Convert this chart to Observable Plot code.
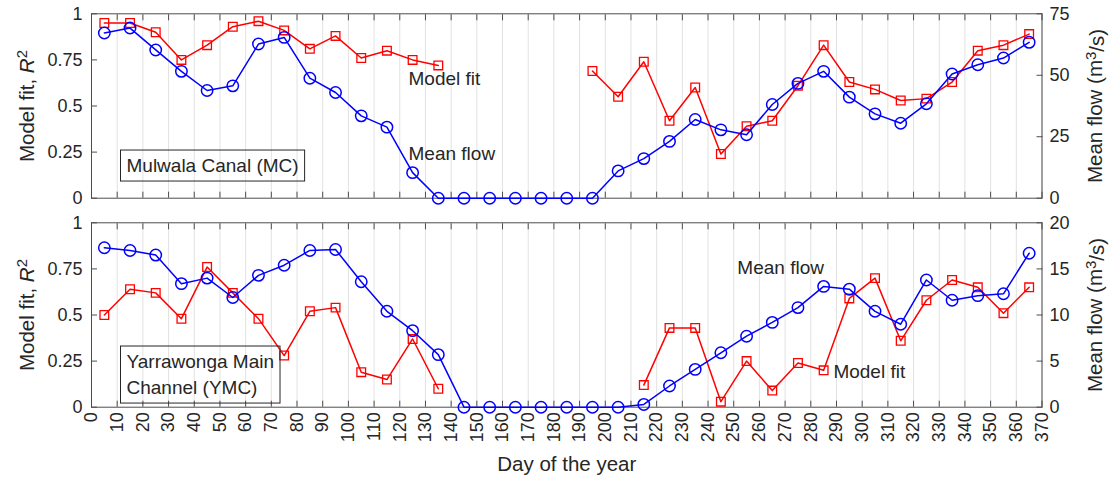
<!DOCTYPE html>
<html>
<head>
<meta charset="utf-8">
<script src="https://cdn.jsdelivr.net/npm/d3@7"></script>
<script src="https://cdn.jsdelivr.net/npm/@observablehq/plot@0.6"></script>
<style>
  body { margin: 0; background: #fff; }
  #chart { width: 1113px; height: 477px; display: flex; flex-direction: column; }
  #chart svg { display: block; overflow: visible; }
</style>
</head>
<body>
<div id="chart"></div>
<script>
// ---- data ----
const days = [5, 15, 25, 35, 45, 55, 65, 75, 85, 95, 105, 115, 125, 135, 145, 155, 165, 175, 185,
  195, 205, 215, 225, 235, 245, 255, 265, 275, 285, 295, 305, 315, 325, 335, 345, 355, 365];

// Mulwala Canal (MC)
const mcFit = [0.95, 0.95, 0.90, 0.75, 0.83, 0.93, 0.96, 0.91, 0.81, 0.88, 0.76, 0.80, 0.75, 0.72,
  null, null, null, null, null,
  0.69, 0.55, 0.74, 0.42, 0.60, 0.24, 0.39, 0.42, 0.61, 0.83, 0.63, 0.59, 0.53, 0.54, 0.63, 0.80, 0.83, 0.89];
const mcFlow = [67.2, 69.2, 60.3, 51.6, 43.8, 45.7, 62.7, 65.4, 48.8, 43.0, 33.5, 28.9, 10.4, 0,
  0, 0, 0, 0, 0, 0,
  11.1, 16.1, 23.1, 32.0, 27.8, 25.8, 38.1, 46.7, 51.6, 41.1, 34.3, 30.5, 38.4, 50.5, 54.3, 57.0, 63.4];

// Yarrawonga Main Channel (YMC)
const ymcFit = [0.50, 0.64, 0.62, 0.48, 0.76, 0.62, 0.48, 0.28, 0.52, 0.54, 0.19, 0.15, 0.37, 0.10,
  null, null, null, null, null, null, null,
  0.12, 0.43, 0.43, 0.03, 0.25, 0.09, 0.24, 0.20, 0.59, 0.70, 0.36, 0.58, 0.69, 0.65, 0.51, 0.65];
const ymcFlow = [17.3, 17.0, 16.5, 13.4, 14.0, 11.9, 14.3, 15.4, 17.0, 17.1, 13.6, 10.4, 8.3, 5.7,
  0, 0, 0, 0, 0, 0, 0,
  0.3, 2.3, 4.1, 5.9, 7.7, 9.2, 10.8, 13.1, 12.8, 10.4, 9.0, 13.8, 11.6, 12.1, 12.3, 16.7];

// tick labels
const dayTicks = [0, 10, 20, 30, 40, 50, 60, 70, 80, 90, 100, 110, 120, 130, 140, 150, 160, 170, 180,
  190, 200, 210, 220, 230, 240, 250, 260, 270, 280, 290, 300, 310, 320, 330, 340, 350, 360, 370];
const fitTicks = [0, 0.25, 0.5, 0.75, 1];
const mcFlowTicks = [0, 25, 50, 75];
const ymcFlowTicks = [0, 5, 10, 15, 20];

// panel names and in-plot annotations (day, fit-axis value)
const mcName = "Mulwala Canal (MC)";
const ymcName = "Yarrawonga Main\nChannel (YMC)";
const mcNotes = [{label: "Model fit", day: 123.4, r: 0.648}, {label: "Mean flow", day: 123.4, r: 0.241}];
const ymcNotes = [{label: "Mean flow", day: 251.4, r: 0.754}, {label: "Model fit", day: 288.8, r: 0.192}];
const leftTitle = "Model fit, R2";
const rightTitle = "Mean flow (m3/s)";

const FONT = "'Liberation Sans', Arial, Helvetica, sans-serif";
const INK = "#262626";
const AXIS = "#4d4d4d";

function panel({fit, flow, flowTicks, name, notes, height, marginTop, marginBottom, showDays}) {
  const flowMax = flowTicks[flowTicks.length - 1];
  const rows = days.map((d, i) => ({day: d, fit: fit[i], flow: flow[i]}));
  return Plot.plot({
    width: 1113, height, marginLeft: 91, marginRight: 71.5, marginTop, marginBottom,
    style: {fontFamily: FONT, fontSize: "18px", color: INK, background: "transparent", overflow: "visible"},
    x: {domain: [0, 370], label: null},
    y: {domain: [0, 1], label: null},
    marks: [
      Plot.gridX(dayTicks, {stroke: "#e2e2e2", strokeOpacity: 1}),
      Plot.frame({stroke: AXIS}),
      Plot.axisX(dayTicks, {anchor: "top", tickSize: -6, tickFormat: () => "", label: null, stroke: AXIS}),
      Plot.axisX(dayTicks, {
        anchor: "bottom", tickSize: -6, tickPadding: 11, label: null, stroke: AXIS, fill: INK, fontSize: 18,
        tickRotate: showDays ? -90 : 0, tickFormat: showDays ? (d => String(d)) : (() => "")
      }),
      Plot.axisY(fitTicks, {anchor: "left", tickSize: -6, tickPadding: 15, label: null, stroke: AXIS, fill: INK,
        fontSize: 18, tickFormat: d => String(d)}),
      Plot.axisY(flowTicks.map(v => v / flowMax), {anchor: "right", tickSize: -6, tickPadding: 13.5, label: null,
        stroke: AXIS, fill: INK, fontSize: 18, tickFormat: d => String(Math.round(d * flowMax))}),
      // model fit (left axis)
      Plot.line(rows, {x: "day", y: "fit", stroke: "#ff0000", strokeWidth: 1.5}),
      Plot.dot(rows, {x: "day", y: "fit", symbol: "square", r: 4.9, stroke: "#ff0000", fill: "none", strokeWidth: 1.3}),
      // mean flow (right axis)
      Plot.line(rows, {x: "day", y: d => d.flow / flowMax, stroke: "#0000ff", strokeWidth: 1.5}),
      Plot.dot(rows, {x: "day", y: d => d.flow / flowMax, r: 5.7, stroke: "#0000ff", fill: "none", strokeWidth: 1.5}),
      // annotations
      Plot.text(notes, {x: "day", y: "r", text: "label", textAnchor: "start", lineAnchor: "middle",
        fill: INK, fontSize: 19}),
      Plot.text([name], {text: d => d, frameAnchor: "bottom-left", dx: 35, dy: -34.5, textAnchor: "start",
        lineAnchor: "middle", lineHeight: 1.37, fill: INK, fontSize: 19}),
      // axis titles
      Plot.text([leftTitle], {text: d => d, frameAnchor: "left", dx: -64.5, rotate: -90, textAnchor: "middle",
        lineAnchor: "middle", fill: INK, fontSize: 20.5}),
      Plot.text([rightTitle], {text: d => d, frameAnchor: "right", dx: 53.5, rotate: -90, textAnchor: "middle",
        lineAnchor: "middle", fill: INK, fontSize: 20.5}),
      ...(showDays ? [Plot.text(["Day of the year"], {text: d => d, frameAnchor: "bottom", dy: 64,
        textAnchor: "middle", lineAnchor: "bottom", fill: INK, fontSize: 20.5})] : [])
    ]
  });
}

const chart = document.getElementById("chart");
const top1 = panel({fit: mcFit, flow: mcFlow, flowTicks: mcFlowTicks, name: mcName, notes: mcNotes,
  height: 210, marginTop: 13.3, marginBottom: 12.3, showDays: false});
const bot1 = panel({fit: ymcFit, flow: ymcFlow, flowTicks: ymcFlowTicks, name: ymcName, notes: ymcNotes,
  height: 267, marginTop: 12.3, marginBottom: 70.3, showDays: true});
chart.appendChild(top1);
chart.appendChild(bot1);

function findText(svg, str) {
  return Array.from(svg.querySelectorAll("text")).find(t => t.textContent === str.replace(/\n/g, "")) || null;
}

// rich axis titles (italic R, superscripts) and box around the panel names
[[top1, mcName], [bot1, ymcName]].forEach(([svg, name]) => {
  const ltNode = findText(svg, leftTitle);
  if (ltNode) {
    const lt = d3.select(ltNode);
    lt.text(null);
    lt.append("tspan").text("Model fit, ");
    lt.append("tspan").attr("font-style", "italic").text("R");
    lt.append("tspan").attr("dy", "-0.42em").attr("font-size", "15px").text("2");
  }
  const rtNode = findText(svg, rightTitle);
  if (rtNode) {
    const rt = d3.select(rtNode);
    rt.text(null);
    rt.append("tspan").text("Mean flow (m");
    rt.append("tspan").attr("dy", "-0.42em").attr("font-size", "15px").text("3");
    rt.append("tspan").attr("dy", "0.42em").text("/s)");
  }
  const t = findText(svg, name);
  if (t) {
    const bb = t.getBBox();
    const padX = 6, padY = 5;
    const rect = document.createElementNS("http://www.w3.org/2000/svg", "rect");
    rect.setAttribute("x", bb.x - padX);
    rect.setAttribute("y", bb.y - padY);
    rect.setAttribute("width", bb.width + 2 * padX);
    rect.setAttribute("height", bb.height + 2 * padY);
    rect.setAttribute("fill", "none");
    rect.setAttribute("stroke", INK);
    rect.setAttribute("stroke-width", 1);
    if (t.getAttribute("transform")) rect.setAttribute("transform", t.getAttribute("transform"));
    t.parentNode.insertBefore(rect, t);
  }
});
</script>
</body>
</html>
